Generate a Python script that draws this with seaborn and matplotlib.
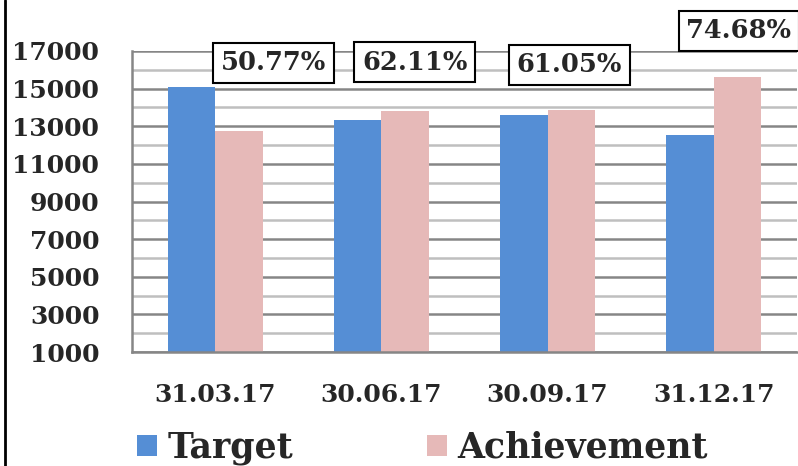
"""
Target vs Achievement por trimestre - recriação do gráfico de barras
"""
import pandas as pd
import matplotlib
matplotlib.use('Agg')
import matplotlib.pyplot as plt
import seaborn as sns
from matplotlib.lines import Line2D
from matplotlib.patches import Patch
from matplotlib.ticker import MultipleLocator

# Dados
quarters = ['31.03.17', '30.06.17', '30.09.17', '31.12.17']
target = [15100, 13340, 13600, 12540]
achievement = [12770, 13820, 13860, 15640]
pct_labels = ['50.77%', '62.11%', '61.05%', '74.68%']
series_names = ['Target', 'Achievement']

# Layout das caixas de percentual (em coordenadas de dados)
pct_box_x = [0.35, 1.20, 2.13, 3.15]
pct_box_y = [16370, 16400, 16270, 18070]

BLUE = '#558ED5'
PINK = '#E6B9B8'
FONT = ['DejaVu Serif']

df = pd.DataFrame({
    'quarter': quarters * 2,
    'value': target + achievement,
    'series': [series_names[0]] * 4 + [series_names[1]] * 4,
})

sns.set_style('white')
plt.rcParams['font.family'] = FONT
plt.rcParams['font.weight'] = 'bold'

W, H = 798, 466
fig = plt.figure(figsize=(W / 100, H / 100), dpi=100)
ax = fig.add_axes([132 / W, 1 - 352 / H, (797 - 132) / W, (352 - 51) / H])

sns.barplot(data=df, x='quarter', y='value', hue='series',
            palette=[BLUE, PINK], saturation=1, width=0.57, gap=0,
            linewidth=0, legend=False, ax=ax)

ax.set_xlim(-0.5, 3.5)
ax.set_ylim(1000, 17000)
ax.set_xlabel('')
ax.set_ylabel('')

# Grade: principal a cada 2000, secundária a cada 1000
ax.yaxis.set_major_locator(MultipleLocator(2000))
ax.yaxis.set_minor_locator(MultipleLocator(1000))
ax.set_yticks(range(1000, 17001, 2000))
ax.grid(axis='y', which='major', color='#868686', lw=1.8, zorder=0)
ax.grid(axis='y', which='minor', color='#BFBFBF', lw=1.8, zorder=0)
ax.grid(axis='x', visible=False)
ax.set_axisbelow(True)

# Eixo x: ticks nos limites das categorias, rótulos no centro
ax.set_xticks([-0.5, 0.5, 1.5, 2.5, 3.5])
ax.set_xticklabels([])
ax.set_xticks(range(len(quarters)), minor=True)
ax.set_xticklabels(quarters, minor=True)
ax.tick_params(axis='x', which='major', direction='out', length=7.5,
               width=1.8, color='#868686')
ax.tick_params(axis='x', which='minor', length=0, pad=22, labelsize=18)
ax.tick_params(axis='y', which='major', direction='out', length=7.5,
               width=1.8, color='#868686', pad=16, labelsize=18)
ax.tick_params(axis='y', which='minor', length=0)
for lab in ax.get_xticklabels(minor=True) + ax.get_yticklabels():
    lab.set_fontweight('bold')

for side in ['top', 'right']:
    ax.spines[side].set_visible(False)
for side in ['left', 'bottom']:
    ax.spines[side].set_color('#868686')
    ax.spines[side].set_linewidth(1.8)

# Caixas de percentual
for x, y, txt in zip(pct_box_x, pct_box_y, pct_labels):
    ax.text(x, y, txt, ha='center', va='center', fontsize=18.5,
            fontweight='bold', clip_on=False, zorder=5,
            bbox=dict(boxstyle='square,pad=0.3', fc='white', ec='black', lw=1.5))

# Legenda
handles = [Patch(facecolor=BLUE, edgecolor='none'),
           Patch(facecolor=PINK, edgecolor='none')]
fig.legend(handles, series_names, loc='center left',
           bbox_to_anchor=(137 / W, 1 - 448 / H), ncol=2, frameon=False,
           prop={'family': FONT, 'weight': 'bold', 'size': 25},
           handlelength=0.58, handleheight=0.58, handletextpad=0.29,
           columnspacing=3.85, borderpad=0, borderaxespad=0)

# Borda esquerda do quadro
fig.add_artist(Line2D([5 / W, 5 / W], [0, 1], color='black', lw=2))

fig.savefig('out.png', dpi=100)
